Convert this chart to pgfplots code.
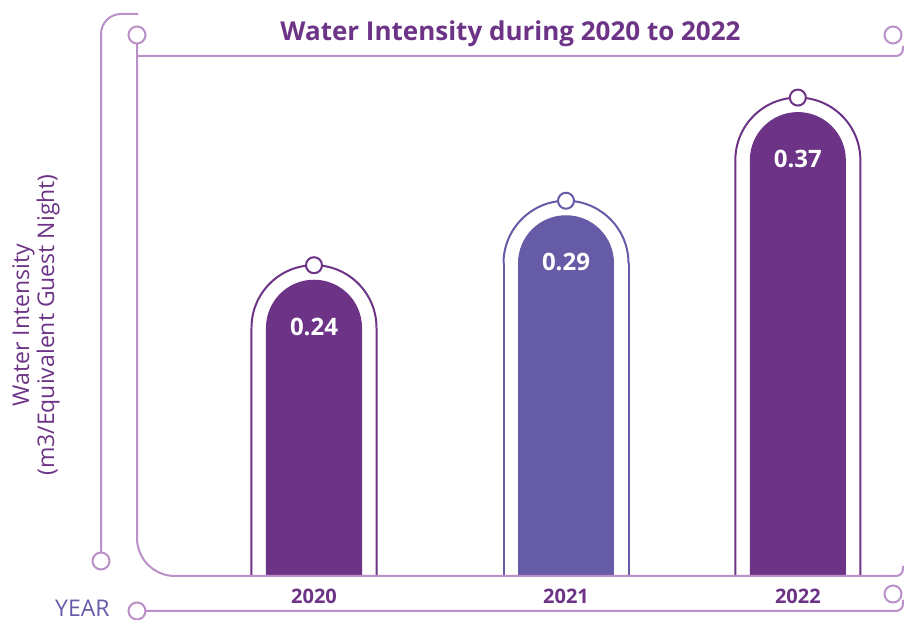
\documentclass[border=0pt]{standalone}
\usepackage{pgfplots}
\usepackage{pgfplotstable}
\pgfplotsset{compat=1.18}
\usepackage{fontspec}
\setmainfont{Open Sans}
\definecolor{barA}{HTML}{6C3386}
\definecolor{barB}{HTML}{665BA7}
\definecolor{framec}{HTML}{BB90C8}

\pgfdeclareplotmark{uarc}{%
  \pgfpathmoveto{\pgfqpoint{\pgfplotmarksize}{0pt}}%
  \pgfpatharc{0}{180}{\pgfplotmarksize}%
  \pgfusepathqstroke}
\pgfdeclareplotmark{udisk}{%
  \pgfpathmoveto{\pgfqpoint{\pgfplotmarksize}{-0.5pt}}%
  \pgfpathlineto{\pgfqpoint{\pgfplotmarksize}{0pt}}%
  \pgfpatharc{0}{180}{\pgfplotmarksize}%
  \pgfpathlineto{\pgfqpoint{-\pgfplotmarksize}{-0.5pt}}%
  \pgfpathclose
  \pgfusepathqfill}

\pgfplotstableread{
x y
0 0.24
1.92 0.37
}\tabA
\pgfplotstableread{
x y
1 0.29
}\tabB

\pgfplotsset{
  side/.style 2 args={ybar, bar shift=#2, bar width=2bp, fill=#1, draw=none, mark=none},
  outerarc/.style={only marks, mark=uarc, mark size=62.5bp, mark options={draw=#1, line width=2bp}},
  innerbar/.style={ybar, bar shift=0pt, bar width=96bp, fill=#1, draw=none, mark=none},
  innerarc/.style={only marks, mark=udisk, mark size=48bp, mark options={fill=#1, draw=none},
    nodes near coords,
    every node near coord/.append style={anchor=center, yshift=1bp, text=white, font=\fontsize{24bp}{28bp}\selectfont\bfseries}},
  knob/.style={only marks, mark=*, mark size=8bp, mark options={fill=white, draw=#1, line width=2bp}, yshift=62.5bp},
}

\begin{document}
\begin{tikzpicture}
\begin{axis}[
  scale only axis, width=904bp, height=576bp,
  xmin=-1.2460, xmax=2.3413, ymin=0.04746, ymax=0.49414,
  axis line style={draw=none}, major tick style={draw=none},
  ytick=\empty, xtick={0,1,1.92}, xticklabels={2020,2021,2022},
  xticklabel style={anchor=base, yshift=-27bp, font=\fontsize{20bp}{24bp}\selectfont\bfseries, text=barA},
  /pgf/number format/assume math mode=true,
  /pgf/number format/.cd, fixed, precision=2, zerofill, /pgfplots/.cd,
  title={Water Intensity during 2020 to 2022},
  title style={at={(axis description cs:0.5647,0.9201)}, anchor=base, font=\fontsize{26bp}{30bp}\selectfont\bfseries, text=barA},
  ylabel={Water Intensity\\(m3/Equivalent Guest Night)},
  ylabel style={at={(axis description cs:0.0398,0.4358)}, anchor=center, align=center, font=\fontsize{23bp}{25bp}\selectfont, text=barA},
  xlabel={YEAR},
  xlabel style={at={(axis description cs:0.0608,-0.0695)}, anchor=base west, inner sep=0pt, font=\fontsize{23bp}{27bp}\selectfont, text=barB},
]
\addplot[side={barA}{-62.5bp}] table {\tabA};
\addplot[side={barA}{62.5bp}] table {\tabA};
\addplot[innerbar=barA] table {\tabA};
\addplot[outerarc=barA] table {\tabA};
\addplot[innerarc=barA] table {\tabA};
\addplot[knob=barA] table {\tabA};

\addplot[side={barB}{-62.5bp}] table {\tabB};
\addplot[side={barB}{62.5bp}] table {\tabB};
\addplot[innerbar=barB] table {\tabB};
\addplot[outerarc=barB] table {\tabB};
\addplot[innerarc=barB] table {\tabB};
\addplot[knob=barB] table {\tabB};
\end{axis}
\begin{scope}[x=1bp, y=-1bp, yshift=576bp, fr/.style={draw=framec, line width=2bp}]
\draw[fr, rounded corners=20bp] (138,14) -| (101,553);
\draw[fr] (101,561) circle[radius=8.5bp];
\draw[fr] (137,35) circle[radius=8.5bp];
\draw[fr, rounded corners=38bp] (137,43.5) |- (885,576);
\draw[fr, rounded corners=7bp] (884,576) -- (903,576) -- (903,566);
\draw[fr, rounded corners=7bp] (137,56) -- (903,56) -- (903,46);
\draw[fr] (893,35) circle[radius=8.5bp];
\draw[fr] (137,611) circle[radius=8.5bp];
\draw[fr, rounded corners=7bp] (145.5,611) -- (903,611) -- (903,600);
\draw[fr] (893,594) circle[radius=8.5bp];
\pgfresetboundingbox
\path (0,0) rectangle (904,620);
\end{scope}
\end{tikzpicture}
\end{document}
